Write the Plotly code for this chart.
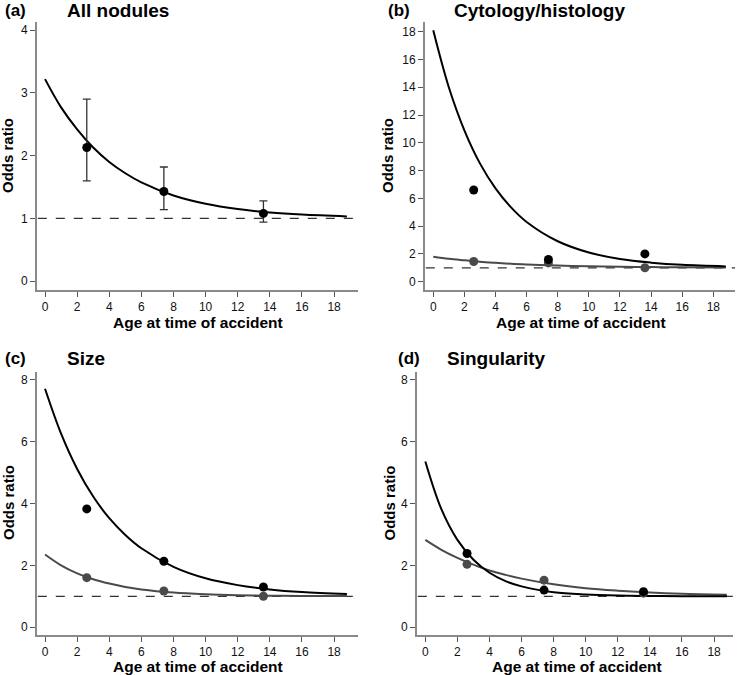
import plotly.graph_objects as go

# ---- data ----
ages = [2.6, 7.4, 13.6]
curve_x = [0, 1, 2, 3, 4, 5, 6, 8, 10, 12, 14, 16, 18.8]

# (a) All nodules
a_points = [2.13, 1.43, 1.08]
a_ci_low = [1.60, 1.14, 0.94]
a_ci_high = [2.90, 1.82, 1.28]
a_curve = [3.22, 2.77, 2.42, 2.13, 1.90, 1.72, 1.575, 1.366, 1.234, 1.149, 1.095, 1.061, 1.032]

# (b) Cytology/histology
b_black_points = [6.6, 1.6, 2.0]
b_gray_points = [1.45, 1.35, 1.0]
b_black_curve = [18.1, 14.0, 10.9, 8.52, 6.72, 5.35, 4.30, 2.91, 2.10, 1.63, 1.37, 1.21, 1.10]
b_gray_curve = [1.80, 1.65, 1.54, 1.44, 1.36, 1.29, 1.24, 1.16, 1.11, 1.07, 1.05, 1.03, 1.02]

# (c) Size
c_black_points = [3.82, 2.13, 1.30]
c_gray_points = [1.60, 1.17, 1.00]
c_black_curve = [7.70, 6.25, 5.11, 4.22, 3.52, 2.98, 2.55, 1.95, 1.58, 1.36, 1.22, 1.135, 1.07]
c_gray_curve = [2.35, 2.00, 1.74, 1.55, 1.41, 1.30, 1.22, 1.12, 1.067, 1.037, 1.02, 1.011, 1.005]

# (d) Singularity
d_black_points = [2.38, 1.20, 1.15]
d_gray_points = [2.03, 1.52, 1.10]
d_black_curve = [5.35, 3.81, 2.82, 2.18, 1.76, 1.49, 1.32, 1.13, 1.056, 1.023, 1.01, 1.004, 1.001]
d_gray_curve = [2.82, 2.50, 2.24, 2.02, 1.83, 1.69, 1.57, 1.385, 1.26, 1.18, 1.12, 1.08, 1.05]

x_ticks = list(range(0, 19, 2))
a_yticks = [0, 1, 2, 3, 4]
b_yticks = list(range(0, 19, 2))
cd_yticks = [0, 2, 4, 6, 8]

panel_labels = ["(a)", "(b)", "(c)", "(d)"]
panel_titles = ["All nodules", "Cytology/histology", "Size", "Singularity"]
x_title = "Age at time of accident"
y_title = "Odds ratio"

BLACK = "#000000"
GRAY = "#4a4a4a"
AXIS = "#8a8a8a"
FONT = "Liberation Sans, Arial, sans-serif"

W, H = 739, 675

def px(x):
    return x / W

def py(y):
    return 1 - y / H

fig = go.Figure()

# panel geometry (pixels): xaxis left/right, yaxis top/bottom
panels = [
    dict(xl=37, xr=358, yt=22, yb=290, xrange=[-0.5, 19.49], yrange=[-0.14, 4.13], yticks=a_yticks),
    dict(xl=425, xr=735, yt=22, yb=290, xrange=[-0.53, 19.39], yrange=[-0.6, 18.7], yticks=b_yticks),
    dict(xl=37, xr=358, yt=372, yb=635, xrange=[-0.5, 19.49], yrange=[-0.25, 8.24], yticks=cd_yticks),
    dict(xl=417, xr=733, yt=372, yb=635, xrange=[-0.52, 19.18], yrange=[-0.25, 8.24], yticks=cd_yticks),
]

for i, p in enumerate(panels):
    n = "" if i == 0 else str(i + 1)
    fig.layout["xaxis" + n] = dict(
        domain=[px(p["xl"]), px(p["xr"])], range=p["xrange"], anchor="y" + n,
        tickvals=x_ticks, ticks="outside", ticklen=5, tickwidth=1, tickcolor="#555",
        showline=True, linecolor=AXIS, linewidth=2, showgrid=False, zeroline=False,
        tickfont=dict(size=12, color="#111", family=FONT),
    )
    fig.layout["yaxis" + n] = dict(
        domain=[py(p["yb"]), py(p["yt"])], range=p["yrange"], anchor="x" + n,
        tickvals=p["yticks"], ticks="outside", ticklen=5, tickwidth=1, tickcolor="#555",
        showline=True, linecolor=AXIS, linewidth=2, showgrid=False, zeroline=False,
        tickfont=dict(size=12, color="#111", family=FONT),
    )

def add_ref(i, xr):
    n = "" if i == 0 else str(i + 1)
    fig.add_trace(go.Scatter(x=[xr[0] + 0.05, xr[1]], y=[1, 1], mode="lines",
                             line=dict(color="#333", width=1.3, dash="dash"),
                             xaxis="x" + n, yaxis="y" + n, showlegend=False, hoverinfo="skip"))

def add_curve(i, ys, color):
    n = "" if i == 0 else str(i + 1)
    fig.add_trace(go.Scatter(x=curve_x, y=ys, mode="lines", line=dict(color=color, width=2, shape="spline"),
                             xaxis="x" + n, yaxis="y" + n, showlegend=False))

def add_points(i, ys, color, err=None):
    n = "" if i == 0 else str(i + 1)
    kw = {}
    if err is not None:
        lo, hi = err
        kw["error_y"] = dict(type="data", symmetric=False,
                             array=[h - v for h, v in zip(hi, ys)],
                             arrayminus=[v - l for v, l in zip(ys, lo)],
                             color="#333", thickness=1.3, width=4)
    fig.add_trace(go.Scatter(x=ages, y=ys, mode="markers", marker=dict(color=color, size=9),
                             xaxis="x" + n, yaxis="y" + n, showlegend=False, **kw))

# (a)
add_ref(0, panels[0]["xrange"])
add_curve(0, a_curve, BLACK)
add_points(0, a_points, BLACK, err=(a_ci_low, a_ci_high))
# (b)
add_ref(1, panels[1]["xrange"])
add_curve(1, b_gray_curve, GRAY)
add_curve(1, b_black_curve, BLACK)
add_points(1, b_gray_points, GRAY)
add_points(1, b_black_points, BLACK)
# (c)
add_ref(2, panels[2]["xrange"])
add_curve(2, c_gray_curve, GRAY)
add_curve(2, c_black_curve, BLACK)
add_points(2, c_gray_points, GRAY)
add_points(2, c_black_points, BLACK)
# (d)
add_ref(3, panels[3]["xrange"])
add_curve(3, d_gray_curve, GRAY)
add_curve(3, d_black_curve, BLACK)
add_points(3, d_gray_points, GRAY)
add_points(3, d_black_points, BLACK)

ann = []
label_pos = [(3, 65, 11), (386, 452, 11), (3, 65, 358), (396, 445, 358)]
for i, (lx, tx, ty) in enumerate(label_pos):
    ann.append(dict(x=px(lx), y=py(ty), xref="paper", yref="paper", xanchor="left", yanchor="middle",
                    text="<b>%s</b>" % panel_labels[i], showarrow=False,
                    font=dict(size=17, color="#000", family=FONT)))
    ann.append(dict(x=px(tx), y=py(ty), xref="paper", yref="paper", xanchor="left", yanchor="middle",
                    text="<b>%s</b>" % panel_titles[i], showarrow=False,
                    font=dict(size=19, color="#000", family=FONT)))

xt_pos = [(198, 322), (581, 322), (198, 666), (577, 666)]
for (x, y) in xt_pos:
    ann.append(dict(x=px(x), y=py(y), xref="paper", yref="paper", xanchor="center", yanchor="middle",
                    text="<b>%s</b>" % x_title, showarrow=False,
                    font=dict(size=15.5, color="#000", family=FONT)))

yt_pos = [(8, 156), (388, 156), (8, 503), (388.5, 503)]
for (x, y) in yt_pos:
    ann.append(dict(x=px(x), y=py(y), xref="paper", yref="paper", xanchor="center", yanchor="middle",
                    text="<b>%s</b>" % y_title, showarrow=False, textangle=-90,
                    font=dict(size=15, color="#000", family=FONT)))

fig.update_layout(width=W, height=H, margin=dict(l=0, r=0, t=0, b=0),
                  plot_bgcolor="white", paper_bgcolor="white", annotations=ann,
                  font=dict(family=FONT))

fig.write_html("out.html", config={"displayModeBar": False},
               post_script="document.body.style.margin='0';document.body.style.overflow='hidden';")
